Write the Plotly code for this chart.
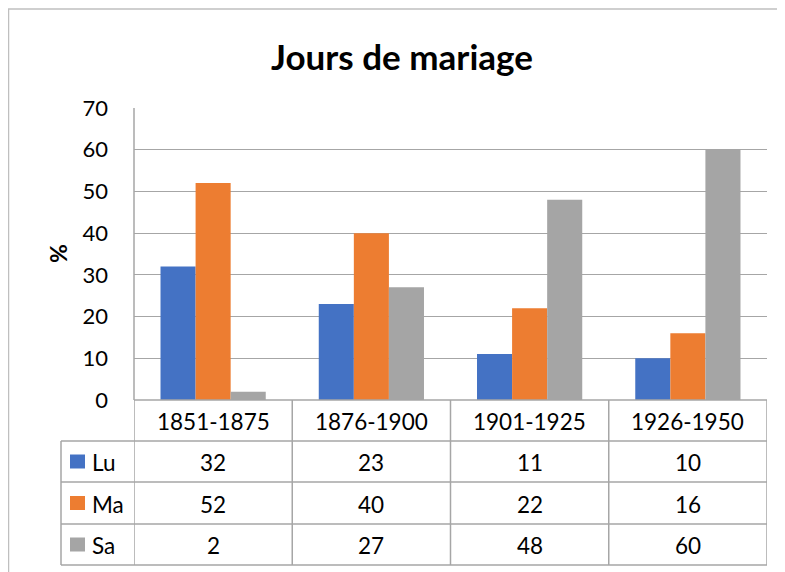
import plotly.graph_objects as go

categories = ["1851-1875", "1876-1900", "1901-1925", "1926-1950"]
series_names = ["Lu", "Ma", "Sa"]
lu = [32, 23, 11, 10]
ma = [52, 40, 22, 16]
sa = [2, 27, 48, 60]
colors = ["#4472C4", "#ED7D31", "#A5A5A5"]
y_ticks = [0, 10, 20, 30, 40, 50, 60, 70]
title_text = "Jours de mariage"
y_title = "%"

# page body has an 8px margin; figure fills the rest of the 785x572 window
OFF = 8
W, H = 785 - OFF, 572 - OFF
FONT = "Lato, Carlito, Calibri, sans-serif"
LINE = "#a6a6a6"


def py(px):
    return 1 - (px - OFF) / H


def pxx(px):
    return (px - OFF) / W


values = [lu, ma, sa]
fig = go.Figure()
for name, vals, col in zip(series_names, values, colors):
    fig.add_trace(go.Bar(x=categories, y=vals, name=name, marker_color=col,
                         marker_line_width=0, showlegend=False))

plot_left, plot_right, plot_top, plot_bottom = 134, 767, 108, 400
fig.update_layout(
    width=W, height=H,
    margin=dict(l=0, r=0, t=0, b=0, pad=0, autoexpand=False),
    paper_bgcolor="white", plot_bgcolor="white",
    barmode="group", bargap=0.335, bargroupgap=0,
    font=dict(family=FONT, color="black"),
    showlegend=False,
    xaxis=dict(domain=[pxx(plot_left), pxx(plot_right)], range=[-0.5, 3.5],
               showticklabels=False, showgrid=False, zeroline=False,
               showline=False, ticks="", automargin=False),
    yaxis=dict(domain=[py(plot_bottom), py(plot_top)], range=[0, 70],
               tickvals=y_ticks, showgrid=True, gridcolor=LINE, gridwidth=1,
               zeroline=False, showline=False, ticks="", automargin=False,
               tickfont=dict(size=22, family=FONT, color="black"),
               ticklabelstandoff=25),
)

shapes = []
# outer chart border (top and left)
shapes.append(dict(type="line", xref="paper", yref="paper", x0=pxx(8), x1=1.05,
                   y0=py(9), y1=py(9), line=dict(color="#bfbfbf", width=1.5)))
shapes.append(dict(type="line", xref="paper", yref="paper", x0=pxx(8.5), x1=pxx(8.5),
                   y0=py(9), y1=-0.05, line=dict(color="#bfbfbf", width=1.5)))
# plot left edge
shapes.append(dict(type="line", xref="paper", yref="paper", x0=pxx(plot_left), x1=pxx(plot_left),
                   y0=py(plot_top), y1=py(plot_bottom), line=dict(color=LINE, width=1.5)))

# data table geometry
row_bounds = [400, 441, 482, 524, 565]
table_left = 61
n = len(categories)
shapes.append(dict(type="line", xref="x", yref="paper", x0=-0.5, x1=n - 0.5,
                   y0=py(row_bounds[0]), y1=py(row_bounds[0]), line=dict(color=LINE, width=1.5)))
for rb in row_bounds[1:]:
    shapes.append(dict(type="line", xref="paper", yref="paper", x0=pxx(table_left), x1=pxx(plot_right),
                       y0=py(rb), y1=py(rb), line=dict(color=LINE, width=1.5)))
for i in range(n + 1):
    shapes.append(dict(type="line", xref="x", yref="paper", x0=i - 0.5, x1=i - 0.5,
                       y0=py(row_bounds[0]), y1=py(row_bounds[-1]), line=dict(color=LINE, width=1.5)))
shapes.append(dict(type="line", xref="paper", yref="paper", x0=pxx(table_left), x1=pxx(table_left),
                   y0=py(row_bounds[1]), y1=py(row_bounds[-1]), line=dict(color=LINE, width=1.5)))

annotations = []
annotations.append(dict(text="<b>" + title_text + "</b>", xref="paper", yref="paper",
                        x=pxx(402), y=py(56), xanchor="center", yanchor="middle", showarrow=False,
                        font=dict(size=35, family=FONT, color="black")))
annotations.append(dict(text="<b>" + y_title + "</b>", xref="paper", yref="paper",
                        x=pxx(58), y=py(254), xanchor="center", yanchor="middle",
                        textangle=-90, showarrow=False,
                        font=dict(size=23, family=FONT, color="black")))
hdr_y = (row_bounds[0] + row_bounds[1]) / 2
TFS = 22.5
for c in categories:
    annotations.append(dict(text=c, xref="x", yref="paper", x=c, y=py(hdr_y + 1),
                            xanchor="center", yanchor="middle",
                            showarrow=False, font=dict(size=TFS, family=FONT, color="black")))
for r, (name, vals, col) in enumerate(zip(series_names, values, colors)):
    cy = (row_bounds[r + 1] + row_bounds[r + 2]) / 2
    for c, v in zip(categories, vals):
        annotations.append(dict(text=str(v), xref="x", yref="paper", x=c, y=py(cy + 1),
                                xanchor="center", yanchor="middle",
                                showarrow=False, font=dict(size=TFS, family=FONT, color="black")))
    shapes.append(dict(type="rect", xref="paper", yref="paper", x0=pxx(70), x1=pxx(85),
                       y0=py(cy + 7), y1=py(cy - 7), fillcolor=col, line=dict(width=0)))
    annotations.append(dict(text=name, xref="paper", yref="paper", x=pxx(90), y=py(cy + 1),
                            xanchor="left", yanchor="middle", showarrow=False,
                            font=dict(size=TFS, family=FONT, color="black")))

fig.update_layout(shapes=shapes, annotations=annotations)
fig.write_html("out.html")
